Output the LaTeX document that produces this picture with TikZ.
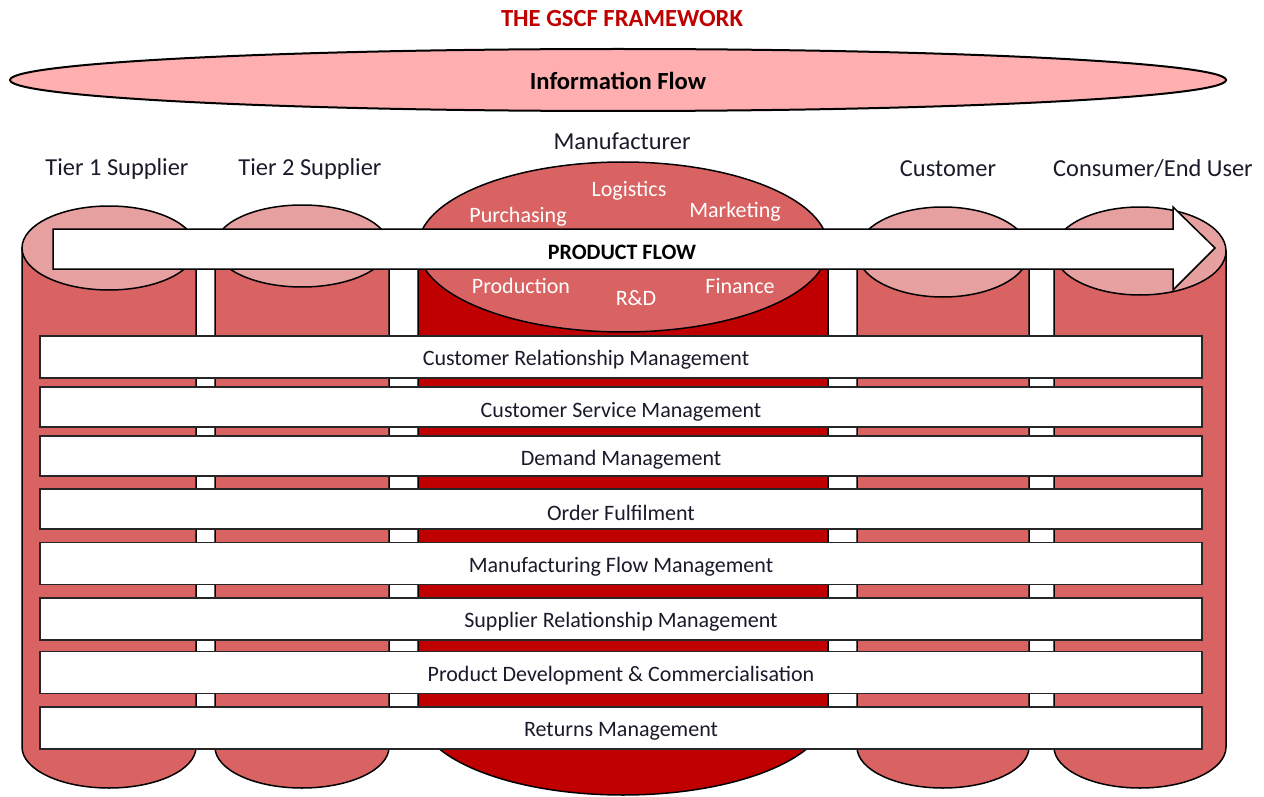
\documentclass[tikz,border=0pt]{standalone}
\usepackage{fontspec}
\setmainfont{Carlito}
\definecolor{infofill}{HTML}{FFAFAF}
\definecolor{cylbody}{HTML}{D96363}
\definecolor{cyltop}{HTML}{E6A0A0}
\definecolor{manbody}{HTML}{C00000}
\definecolor{titlered}{HTML}{C00000}
\definecolor{txt}{HTML}{1A1A2A}
\newcommand\gscfcyl[8]{% cx, rx, topcy, topry, botcy, botry, body, top
  \filldraw[cylline,fill=#7] ({#1-#2},#3) -- ({#1-#2},#5)
    arc[start angle=180,end angle=0,x radius=#2,y radius=#6] -- ({#1+#2},#3) -- cycle;
  \filldraw[cylline,fill=#8] (#1,#3) ellipse[x radius=#2,y radius=#4];
}
\begin{document}
\begin{tikzpicture}[x=0.5pt,y=-0.5pt,
  every node/.style={font=\fontsize{11}{13}\selectfont, text=txt, inner sep=0pt},
  cylline/.style={draw=black, line width=0.75pt},
  bar/.style={draw=black!85, line width=0.9pt, fill=white, minimum width=581pt, minimum height=21pt},
  bartext/.style={font=\fontsize{11}{13}\selectfont, text=txt},
  mantext/.style={font=\fontsize{11}{13}\selectfont, text=white},
  toplabel/.style={font=\fontsize{12.2}{14}\selectfont, text=txt},
]
\useasboundingbox (0,0) rectangle (1264,797);
% title
\node[font=\bfseries\fontsize{12.3}{14}\selectfont, text=titlered] (title) at (622,19) {THE GSCF FRAMEWORK};
% information flow
\filldraw[draw=black, line width=1pt, fill=infofill] (618,80) ellipse[x radius=608, y radius=31];
\node[font=\bfseries\fontsize{12.3}{14}\selectfont, text=black] (info) at (618,81) {Information Flow};
% cylinders
\gscfcyl{109}{87}{248}{42}{747}{41}{cylbody}{cyltop}
\gscfcyl{302}{87}{246}{41}{747}{41}{cylbody}{cyltop}
\gscfcyl{623}{205}{247}{85}{712}{83}{manbody}{cylbody}
\gscfcyl{943}{86}{252}{45}{747}{41}{cylbody}{cyltop}
\gscfcyl{1140}{86}{251}{44}{747}{41}{cylbody}{cyltop}
% manufacturer functions
\node[mantext] (log) at (629,191) {Logistics};
\node[mantext] (pur) at (518,217) {Purchasing};
\node[mantext] (mkt) at (735,212) {Marketing};
\node[mantext] (prod) at (521,286) {Production};
\node[mantext] (rd) at (636,298) {R\&D};
\node[mantext] (fin) at (740,286) {Finance};
% product flow arrow
\filldraw[draw=black, line width=0.75pt, fill=white] (53,229) -- (1173,229) -- (1173,207) -- (1215,248) -- (1173,290) -- (1173,269) -- (53,269) -- cycle;
\node[font=\bfseries\fontsize{11}{13}\selectfont, text=black] (pf) at (622,252) {PRODUCT FLOW};
% process bars
\node[bar] (b1) at (621,357) {};
\node[bar, minimum height=20pt] (b2) at (621,407) {};
\node[bar, minimum height=20pt] (b3) at (621,456) {};
\node[bar, minimum height=20pt] (b4) at (621,509) {};
\node[bar] (b5) at (621,563.5) {};
\node[bar] (b6) at (621,619) {};
\node[bar] (b7) at (621,672.5) {};
\node[bar] (b8) at (621,728) {};
\node[bartext] (t1) at ([xshift=-17.5pt,yshift=-1.5pt]b1.center) {Customer Relationship Management};
\node[bartext] (t2) at ([yshift=-2.5pt]b2.center) {Customer Service Management};
\node[bartext] (t3) at ([yshift=-2pt]b3.center) {Demand Management};
\node[bartext] (t4) at ([yshift=-2pt]b4.center) {Order Fulfilment};
\node[bartext] (t5) at ([yshift=-1.5pt]b5.center) {Manufacturing Flow Management};
\node[bartext] (t6) at ([yshift=-1.5pt]b6.center) {Supplier Relationship Management};
\node[bartext] (t7) at ([yshift=-1.5pt]b7.center) {Product Development \& Commercialisation};
\node[bartext] (t8) at ([yshift=-1.5pt]b8.center) {Returns Management};
% labels above
\node[toplabel] (man) at (622,141) {Manufacturer};
\node[toplabel] (tier1) at (117,169) {Tier 1 Supplier};
\node[toplabel] (tier2) at (310,169) {Tier 2 Supplier};
\node[toplabel] (cust) at (948,169) {Customer};
\node[toplabel] (cons) at (1153,169) {Consumer/End User};
\end{tikzpicture}
\end{document}
